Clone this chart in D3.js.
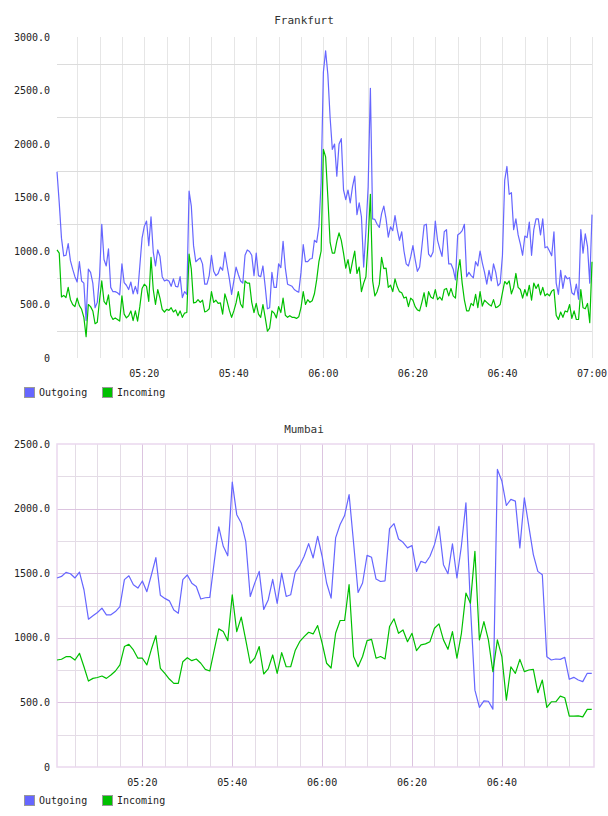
<!DOCTYPE html>
<html>
<head>
<meta charset="utf-8">
<script src="https://cdn.jsdelivr.net/npm/d3@7"></script>
<style>
  body { margin: 0; background: #fff; }
  text { font-family: "DejaVu Sans Mono", monospace; fill: #222; }
</style>
</head>
<body>
<div id="chart"></div>
<script>
const seriesNames = ["Outgoing", "Incoming"];
const seriesColors = ["#6666ff", "#00c000"];

// Frankfurt: one sample every 30 s, first at 05:00:30
const fraStart = "05:00:30";
const fraStepSec = 30;
const fraOutgoing = [
  1740,1450,1120,955,960,1070,910,830,760,710,
  900,720,700,350,830,800,700,470,520,760,
  1250,920,860,1020,660,620,620,610,590,880,
  705,680,640,710,600,670,600,860,1120,1230,
  1280,1050,1320,990,860,1010,950,760,720,730,
  720,670,740,670,665,760,565,620,595,1560,
  1420,1050,
  900,920,935,880,690,690,770,960,810,770,
  790,850,820,990,860,740,595,720,850,780,
  720,700,960,1010,995,960,770,980,770,760,
  860,670,460,470,800,660,660,880,845,1090,
  840,690,680,670,640,625,615,800,1060,900,
  900,925,930,1100,1080,1230,1640,2670,
  2870,2650,2250,1950,2000,1700,2000,2050,1570,1480,
  1570,1450,1600,1700,1340,1450,1320,850,1190,1600,
  2520,1300,1295,1250,1220,1350,1420,1300,1130,1225,
  1190,1330,1200,1100,1180,1000,880,860,945,1050,
  920,810,850,1040,1240,1250,970,945,990,1280,
  1100,1020,950,1180,1200,880,880,830,730,1150,
  1165,1190,1250,
  760,800,770,750,900,860,1000,890,800,690,
  820,720,880,800,675,700,960,1660,1790,1530,
  1545,1200,1300,1150,1065,960,1140,1125,1270,960,
  1200,1300,1300,1150,1300,1030,1040,1000,955,1180,
  700,595,820,650,770,740,750,610,590,690,
  550,1200,980,1160,1040,700,1340
];
const fraIncoming = [
  1010,980,570,585,565,660,545,500,480,560,
  490,455,380,200,500,480,440,320,335,540,
  720,530,500,590,400,360,375,360,345,580,
  410,375,395,440,350,440,345,480,650,690,
  670,530,940,640,500,640,560,455,430,455,
  445,470,430,450,395,440,380,420,425,970,
  830,515,
  520,545,520,540,430,440,460,620,520,540,
  510,515,410,600,530,445,380,440,515,620,
  505,470,720,700,700,520,425,510,410,380,
  500,380,250,280,440,420,375,480,425,560,
  400,380,395,380,380,370,385,470,620,500,
  545,520,535,600,730,900,1000,1950,
  1880,1500,1080,980,980,1090,1170,1100,980,840,
  920,790,900,1000,790,850,620,700,760,1100,
  1530,720,580,620,690,940,836,840,660,680,
  620,740,665,620,610,560,570,480,560,540,
  480,450,440,520,610,480,620,570,555,640,
  545,570,540,640,650,580,650,580,560,800,
  920,700,540,
  440,440,510,490,595,470,620,485,540,520,
  500,485,545,470,480,500,610,715,690,720,
  600,660,790,660,640,560,640,580,680,540,
  700,650,690,590,660,580,600,580,625,640,
  400,360,430,380,440,430,500,370,440,360,
  360,640,470,460,510,330,900
];
const fraYTicks = [0, 500, 1000, 1500, 2000, 2500, 3000];
const fraXLabels = ["05:20", "05:40", "06:00", "06:20", "06:40", "07:00"];

// Mumbai: one sample per minute, first at 05:01
const mumStart = "05:01:00";
const mumStepSec = 60;
const mumOutgoing = [
  1463,1475,1506,1496,1463,1509,1372,1144,1170,1196,
  1230,1178,1178,1203,1242,1450,1480,1410,1385,1440,
  1357,1486,1620,1330,1305,1286,1215,1190,1450,1486,
  1423,1397,1300,1310,1313,1590,1858,1708,1635,2205,
  1953,1889,1747,1320,1423,1514,1220,1293,1453,1267,
  1500,1320,1333,1506,1558,1631,1729,1618,1786,1631,
  1424,1307,1773,1877,1946,2109,1734,1351,1424,1638,
  1623,1455,1436,1441,1845,1884,1765,1739,1696,1714,
  1514,1592,1579,1631,1721,1863,1566,1496,1727,1463,
  1714,2045,1250,595,461,512,509,448,2303,2213,
  2024,2071,2058,1696,2084,1863,1644,1514,1488,854,
  828,836,833,849,679,694,673,661,725,725
];
const mumIncoming = [
  828,834,854,854,828,880,776,665,686,693,
  704,686,712,743,790,932,950,906,842,842,
  790,911,1017,764,725,681,647,647,815,846,
  823,836,803,756,743,906,1069,1048,978,1333,
  1048,1160,984,803,842,932,720,759,867,725,
  885,776,776,901,970,1009,1043,1030,1095,958,
  803,766,1035,1134,1134,1411,855,776,855,978,
  988,842,855,836,1087,1147,1035,1061,970,1035,
  901,945,953,970,1074,1108,984,911,1048,842,
  1035,1346,1268,1669,984,1126,984,738,984,855,
  518,776,725,833,738,751,756,575,673,461,
  505,505,549,536,394,394,396,388,446,446
];
const mumYTicks = [0, 500, 1000, 1500, 2000, 2500];
const mumXLabels = ["05:20", "05:40", "06:00", "06:20", "06:40"];

const svg = d3.select('#chart')
  .append('svg')
    .attr('width', 608)
    .attr('height', 816);

const parseTime = d3.timeParse("%H:%M:%S");
const parseLabel = d3.timeParse("%H:%M");
const fmtY = v => v === 0 ? "0" : d3.format(".1f")(v);

function drawPanel(cfg) {
  const t0 = parseTime(cfg.start);
  const series = cfg.values.map((vals, k) => ({
    name: seriesNames[k],
    color: seriesColors[k],
    points: vals.map((v, i) => ({ time: d3.timeSecond.offset(t0, i * cfg.step), value: v }))
  }));

  const x = d3.scaleTime().domain([t0, parseTime(cfg.end)]).range([cfg.left, cfg.right]);
  const y = d3.scaleLinear().domain([0, d3.max(cfg.yTicks)]).range([cfg.bottom, cfg.top]);
  const labelTimes = cfg.xLabels.map(parseLabel);
  const isMajor = t => labelTimes.some(l => +l === +t);

  const g = svg.append('g');

  // grid
  const gridTimes = d3.timeMinute.every(5).range(t0, d3.timeSecond.offset(parseLabel(cfg.gridEnd), 1));
  const maxY = d3.max(cfg.yTicks);
  const minorY = d3.range(250, maxY, 500);
  const majorY = cfg.yTicks.filter(v => v > 0 && v < maxY);

  g.selectAll('.vgrid')
    .data(gridTimes)
    .enter().append('line')
      .attr('x1', d => Math.round(x(d)) + 0.5)
      .attr('x2', d => Math.round(x(d)) + 0.5)
      .attr('y1', cfg.top)
      .attr('y2', cfg.bottom)
      .attr('stroke', d => isMajor(d) ? cfg.majorColor : cfg.vColor)
      .attr('stroke-width', 1);

  g.selectAll('.hgrid')
    .data(minorY)
    .enter().append('line')
      .attr('x1', cfg.left)
      .attr('x2', cfg.right)
      .attr('y1', d => Math.round(y(d)) + 0.5)
      .attr('y2', d => Math.round(y(d)) + 0.5)
      .attr('stroke', cfg.hColor);

  if (cfg.framed) {
    g.selectAll('.hmajor')
      .data(majorY)
      .enter().append('line')
        .attr('x1', cfg.left)
        .attr('x2', cfg.right)
        .attr('y1', d => Math.round(y(d)) + 0.5)
        .attr('y2', d => Math.round(y(d)) + 0.5)
        .attr('stroke', cfg.majorColor);

    g.append('rect')
      .attr('x', cfg.left)
      .attr('y', cfg.top)
      .attr('width', cfg.right - cfg.left)
      .attr('height', cfg.bottom - cfg.top)
      .attr('fill', 'none')
      .attr('stroke', cfg.frameColor)
      .attr('stroke-width', 1.5);
  }

  // lines
  const line = d3.line()
    .x(d => x(d.time))
    .y(d => y(d.value));

  g.selectAll('.series')
    .data(series)
    .enter().append('path')
      .attr('d', d => line(d.points))
      .attr('fill', 'none')
      .attr('stroke', d => d.color)
      .attr('stroke-width', 1.2)
      .attr('stroke-linejoin', 'round');

  // y labels
  g.selectAll('.ylab')
    .data(cfg.yTicks)
    .enter().append('text')
      .attr('x', 50)
      .attr('y', d => y(d))
      .attr('dy', '0.35em')
      .style('text-anchor', 'end')
      .style('font-size', '10px')
      .text(fmtY);

  // x labels
  g.selectAll('.xlab')
    .data(labelTimes)
    .enter().append('text')
      .attr('x', d => x(d))
      .attr('y', cfg.bottom + 19)
      .style('text-anchor', 'middle')
      .style('font-size', '10px')
      .text(d3.timeFormat("%H:%M"));

  // title
  g.append('text')
    .attr('x', 304)
    .attr('y', cfg.titleY)
    .style('text-anchor', 'middle')
    .style('font-size', '11px')
    .style('fill', '#333')
    .text(cfg.title);

  // legend
  const legend = g.selectAll('.legend')
    .data(series)
    .enter().append('g')
      .attr('transform', (d, i) => `translate(${[24, 102][i]}, ${cfg.legendY})`);

  legend.append('rect')
    .attr('x', 0.5)
    .attr('y', 0.5)
    .attr('width', 10)
    .attr('height', 10)
    .attr('fill', d => d.color)
    .attr('stroke', '#999');

  legend.append('text')
    .attr('x', 15)
    .attr('y', 9)
    .style('font-size', '10px')
    .text(d => d.name);
}

drawPanel({
  title: "Frankfurt", titleY: 24,
  start: fraStart, step: fraStepSec, end: "07:00:00", gridEnd: "07:00",
  values: [fraOutgoing, fraIncoming],
  yTicks: fraYTicks, xLabels: fraXLabels,
  left: 57, right: 592, top: 37, bottom: 358,
  vColor: "#e6e6e6", hColor: "#dcdcdc", majorColor: "#e6e6e6",
  framed: false, legendY: 387
});

drawPanel({
  title: "Mumbai", titleY: 433,
  start: mumStart, step: mumStepSec, end: "07:00:30", gridEnd: "06:55",
  values: [mumOutgoing, mumIncoming],
  yTicks: mumYTicks, xLabels: mumXLabels,
  left: 57, right: 594, top: 444, bottom: 767,
  vColor: "#e4dce6", hColor: "#e4dce6", majorColor: "#dcc4e0",
  frameColor: "#ead8ee", framed: true, legendY: 795
});
</script>
</body>
</html>
